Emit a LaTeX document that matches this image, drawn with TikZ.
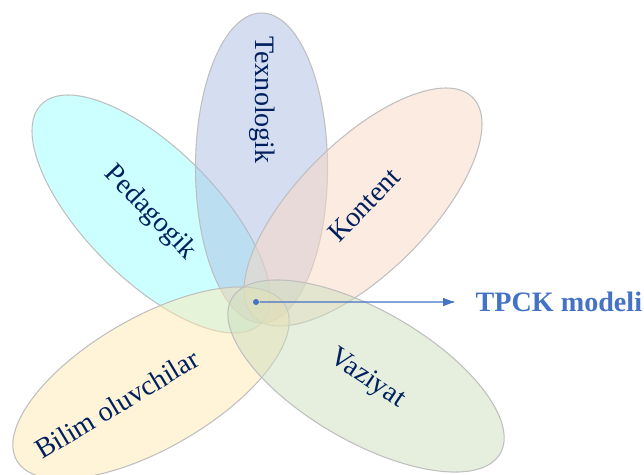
\documentclass[tikz,border=0pt]{standalone}
\usepackage{fontspec}
\setmainfont{Liberation Serif}
\definecolor{pedfill}{RGB}{153,255,255}
\definecolor{texfill}{RGB}{171,189,225}
\definecolor{konfill}{RGB}{249,215,193}
\definecolor{bilfill}{RGB}{255,231,177}
\definecolor{vazfill}{RGB}{205,223,189}
\definecolor{petalline}{RGB}{191,191,191}
\definecolor{navytext}{RGB}{0,32,96}
\definecolor{tpckblue}{RGB}{68,114,196}

\begin{document}
\begin{tikzpicture}[scale=0.1]
\tikzstyle{every node}+=[inner sep=0pt]
\tikzstyle{petal}=[draw=petalline, line width=0.3pt, fill opacity=0.5]
\tikzstyle{petaltext}=[text=navytext, font=\fontsize{8}{10}\selectfont]
\useasboundingbox (0,0) rectangle (64.4,-47.4);
\clip (0,0) rectangle (64.4,-47.4);
\draw [petal, fill=pedfill] (15.1,-21.4) circle [x radius=15.5, y radius=6.55, rotate=-45];
\draw [petal, fill=texfill] (26.15,-16.8) circle [x radius=15.5, y radius=6.6, rotate=90];
\draw [petal, fill=konfill] (36.3,-20.7) circle [x radius=15.5, y radius=6.55, rotate=45];
\draw [petal, fill=bilfill] (15.1,-38.3) circle [x radius=15.5, y radius=6.55, rotate=30];
\draw [petal, fill=vazfill] (36.6,-37.6) circle [x radius=15.5, y radius=6.55, rotate=-30];
\node [petaltext, rotate=-90] (tex) at (26.2,-10) {Texnologik};
\node [petaltext, rotate=-46] (ped) at (15,-21.3) {Pedagogik};
\node [petaltext, rotate=46] (kon) at (36.4,-20.5) {Kontent};
\node [petaltext, rotate=31] (bil) at (11.7,-40.4) {Bilim oluvchilar};
\node [petaltext, rotate=-34] (vaz) at (36.7,-37.9) {Vaziyat};
\node [circle, fill=tpckblue, minimum size=0.06cm] (ctr) at (25.6,-30.2) {};
\node [anchor=west, text=tpckblue, font=\fontsize{8}{10}\selectfont\bfseries] (tpck) at (47.5,-30.15) {TPCK modeli};
\coordinate (tip) at (45.4,-30.2);
\draw [tpckblue, line width=0.35pt] (ctr) -- (tip);
\fill [tpckblue] (tip) -- ++(-1.1,0.42) -- ++(0,-0.84) -- cycle;
\end{tikzpicture}
\end{document}
